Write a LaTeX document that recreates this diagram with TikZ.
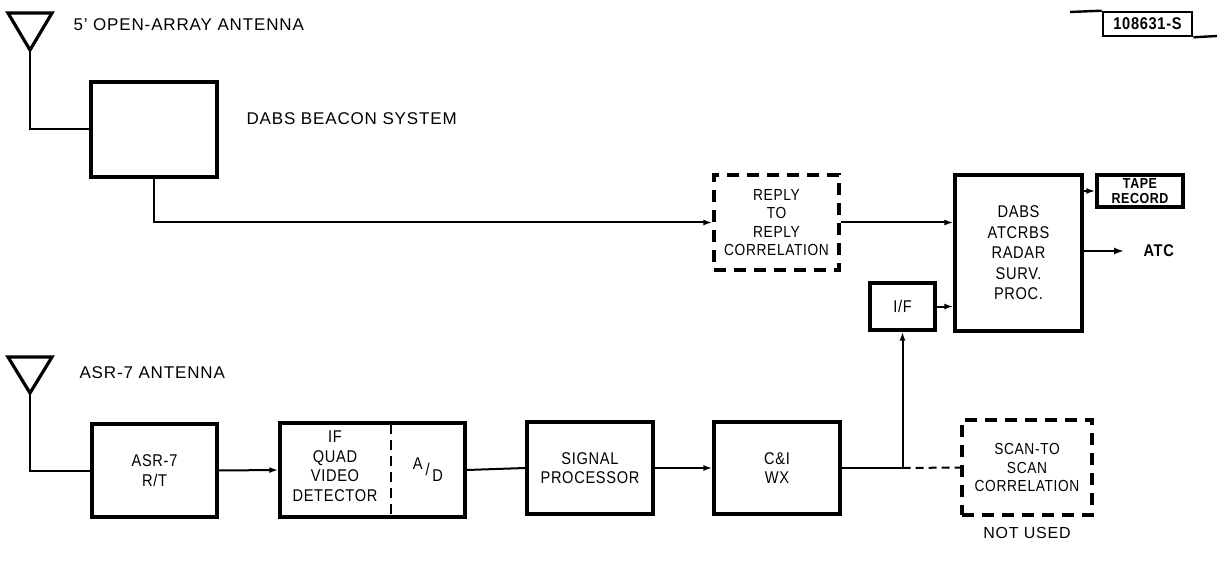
\documentclass[tikz,border=0pt]{standalone}
\usepackage{fontspec}
\setmainfont[LetterSpace = 5]{Liberation Sans}
\newfontfamily\boxfont[LetterSpace = 4, FakeStretch = 0.86]{Liberation Sans}
\usetikzlibrary{arrows.meta}
\usetikzlibrary{shapes}

\begin{document}
\begin{tikzpicture}[x = 1pt, y = -1pt, font = \boxfont\fontsize{17}{19.5}\selectfont]
	\tikzstyle{boxStyle}=[draw, line width = 3.4pt, inner sep = 0pt, align = center]
	\tikzstyle{dashedBox}=[boxStyle, dash pattern = on 12pt off 8pt]
	\tikzstyle{labelStyle}=[anchor = west, font = \rmfamily\fontsize{17}{20}\selectfont]
	\tikzstyle{wireStyle}=[line width = 2pt]
	\tikzstyle{arrowStyle}=[wireStyle, -{Latex[length = 9pt, width = 6pt]}]
	\tikzstyle{antStyle}=[line width = 3.2pt, line join = miter]
	\useasboundingbox (0,0) rectangle (1225,561);
	% antennas
	\draw[antStyle] (8,13) -- (52,13) -- (30,50) -- cycle;
	\coordinate (a1) at (30,50);
	\draw[antStyle] (8,357) -- (52,357) -- (30,393) -- cycle;
	\coordinate (a2) at (30,393);
	\node[labelStyle] (a1txt) at (70,25) {5' OPEN-ARRAY ANTENNA};
	\node[labelStyle] (a2txt) at (76,373) {ASR-7 ANTENNA};
	% top row
	\node[boxStyle, minimum width = 126pt, minimum height = 95pt] (bcn) at (154,129.5) {};
	\node[labelStyle] (bcntxt) at (243,119) {DABS BEACON SYSTEM};
	\node[dashedBox, minimum width = 125pt, minimum height = 95pt, font = \boxfont\fontsize{16}{18.5}\selectfont] (rpl) at (776.5,222.5) {REPLY\\TO\\REPLY\\CORRELATION};
	\node[boxStyle, minimum width = 127pt, minimum height = 156pt, font = \boxfont\fontsize{17}{20.5}\selectfont] (dabs) at (1018.5,253) {DABS\\ATCRBS\\RADAR\\SURV.\\PROC.};
	\node[boxStyle, minimum width = 86pt, minimum height = 32pt, font = \boxfont\fontsize{14.5}{14.5}\selectfont\bfseries] (tape) at (1140,191) {TAPE\\RECORD};
	\node[boxStyle, minimum width = 65pt, minimum height = 47pt] (ifb) at (902.5,306.5) {I/F};
	\coordinate (atc) at (1124,251);
	\node[anchor = west, font = \boxfont\fontsize{17}{17}\selectfont\bfseries] (atctxt) at (1140,251) {ATC};
	% bottom row
	\node[boxStyle, minimum width = 125pt, minimum height = 93pt] (asr) at (154.5,470.5) {ASR-7\\R/T};
	\node[boxStyle, minimum width = 185pt, minimum height = 94pt] (det) at (372.5,470) {};
	\node[align = center] (dettxt) at (335,466) {IF\\QUAD\\VIDEO\\DETECTOR};
	\node (adtxt) at (428,470) {\raisebox{6pt}{A}\,/\,\raisebox{-6pt}{D}};
	\draw[line width = 2.4pt, dash pattern = on 10pt off 6pt] (391,424) -- (391,516);
	\node[boxStyle, minimum width = 126pt, minimum height = 92pt] (sig) at (590,468) {SIGNAL\\PROCESSOR};
	\node[boxStyle, minimum width = 126pt, minimum height = 92pt] (cwx) at (777,468) {C\&I\\WX};
	\node[dashedBox, minimum width = 130pt, minimum height = 95pt, font = \boxfont\fontsize{16}{18.5}\selectfont] (scan) at (1027,467.5) {SCAN-TO\\SCAN\\CORRELATION};
	\node[font = \rmfamily\fontsize{16}{18}\selectfont] (nu) at (1027,533) {NOT USED};
	\coordinate (jn) at (ifb.south |- cwx.east);
	% figure number
	\node[draw, line width = 2.6pt, minimum width = 89pt, minimum height = 24pt, inner sep = 0pt, font = \boxfont\fontsize{17}{17}\selectfont\bfseries] (fig) at (1147.5,24) {108631-S};
	\draw[line width = 2.4pt] (1070,12) -- (fig.north west);
	\draw[line width = 2.4pt] (fig.south east) -- (1217,36);
	% connections
	\draw[wireStyle] (a1) |- (bcn.west);
	\draw[arrowStyle] (bcn.south) |- (rpl.west);
	\draw[arrowStyle] (rpl.east) -- (rpl.east -| dabs.west);
	\draw[arrowStyle] (dabs.east |- tape.west) -- (tape.west);
	\draw[arrowStyle, -{Latex[open, length = 10pt, width = 7pt]}] (dabs.east |- atc) -- (atc);
	\draw[arrowStyle] (ifb.east) -- (ifb.east -| dabs.west);
	\draw[wireStyle] (a2) |- (asr.west);
	\draw[arrowStyle] (asr.east) -- (det.west);
	\draw[wireStyle] (det.east) -- (sig.west);
	\draw[arrowStyle] (sig.east) -- (cwx.west);
	\draw[wireStyle] (cwx.east) -- (jn);
	\draw[arrowStyle] (jn) -- (ifb.south);
	\draw[wireStyle, dash pattern = on 8pt off 5pt] (jn) -- (scan.west);
\end{tikzpicture}
\end{document}
